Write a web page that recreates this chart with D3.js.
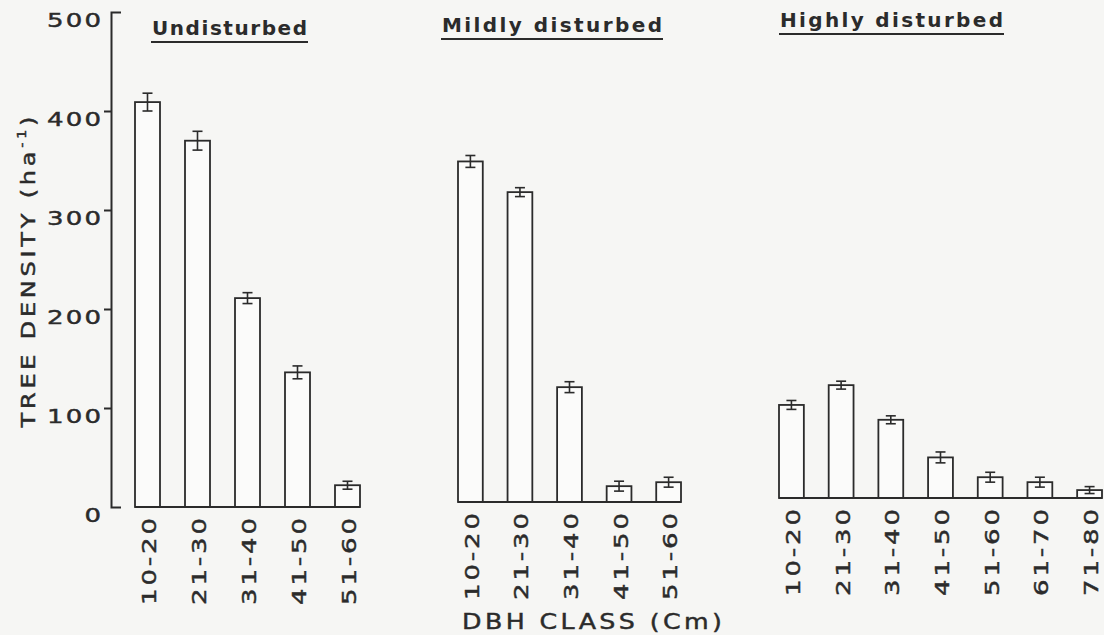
<!DOCTYPE html>
<html>
<head>
<meta charset="utf-8">
<script src="https://cdn.jsdelivr.net/npm/d3@7"></script>
<style>
  body { margin: 0; background: #f6f6f4; }
  svg { display: block; }
  text { font-family: "DejaVu Sans", sans-serif; fill: #2b2b2b; }
  .heavy { stroke: #2b2b2b; stroke-width: 0.45px; }
</style>
</head>
<body>
<svg id="chart"></svg>
<script>
// DBH classes
var classes5 = ["10-20", "21-30", "31-40", "41-50", "51-60"];
var classes7 = ["10-20", "21-30", "31-40", "41-50", "51-60", "61-70", "71-80"];

// tree density (ha-1) and error bars
var undisturbed = [409, 370, 211, 136, 22];
var undisturbedErr = [9, 9.5, 5.5, 6.5, 4];
var mildly = [344, 313, 116, 16, 20];
var mildlyErr = [6, 4.5, 5.5, 5, 5];
var highly = [94, 114, 79, 41, 21, 16, 8];
var highlyErr = [4.5, 4, 4, 5.5, 5, 5, 3.5];

var yTicks = [0, 100, 200, 300, 400, 500];

var width = 1104, height = 635, ink = "#2b2b2b";
var wide = 1.3; // lettering in the figure is extended, stretch the glyphs

var svg = d3.select("#chart").attr("width", width).attr("height", height);

// the scan is a little skewed, so every panel gets its own baseline
var panels = [
  { title: "Undisturbed", cats: classes5, vals: undisturbed, errs: undisturbedErr,
    x0: 135, x1: 360, base: 507, tx: 152, tw: 155, ty: 35 },
  { title: "Mildly disturbed", cats: classes5, vals: mildly, errs: mildlyErr,
    x0: 458, x1: 681, base: 502, tx: 442, tw: 220, ty: 32 },
  { title: "Highly disturbed", cats: classes7, vals: highly, errs: highlyErr,
    x0: 779, x1: 1102, base: 498, tx: 780, tw: 223, ty: 27 }
];

function yScale(base) {
  return d3.scaleLinear().domain([0, 500]).range([base, base - 495]);
}

// y axis
var y = yScale(panels[0].base);
var axis = svg.append("g")
  .attr("transform", "translate(111,0)")
  .call(d3.axisLeft(y).tickValues(yTicks).tickSize(7).tickSizeOuter(-10).tickPadding(3));

axis.select(".domain").attr("stroke", ink).attr("stroke-width", 2);
axis.selectAll(".tick line")
  .attr("stroke", ink).attr("stroke-width", 2)
  .attr("display", function (d) { return (d == 0 || d == 500) ? "none" : null; });
axis.selectAll(".tick text")
  .attr("class", "heavy")
  .attr("fill", ink)
  .attr("font-size", 20)
  .attr("font-family", "DejaVu Sans")
  .attr("transform", "scale(" + wide + ",1)")
  .attr("x", -10 / wide)
  .attr("y", 8)
  .attr("textLength", function (d) { return d == 0 ? null : 54 / wide; })
  .attr("lengthAdjust", "spacing")
  .text(function (d) { return d; });

// y title
var yt = svg.append("text")
  .attr("class", "heavy")
  .attr("transform", "translate(35,272) rotate(-90) scale(1.2,1)")
  .attr("text-anchor", "middle")
  .attr("font-size", 20)
  .attr("textLength", 311 / 1.2)
  .attr("lengthAdjust", "spacing");
yt.append("tspan").text("TREE DENSITY (ha");
yt.append("tspan").attr("font-size", 12).attr("dy", -9).text("-1");
yt.append("tspan").attr("dy", 9).text(")");

// x title
svg.append("text")
  .attr("class", "heavy")
  .attr("transform", "translate(462,629) scale(1.15,1)")
  .attr("font-size", 22)
  .attr("textLength", 260 / 1.15)
  .attr("lengthAdjust", "spacing")
  .text("DBH CLASS (Cm)");

panels.forEach(function (p) {
  var x = d3.scaleBand().domain(p.cats).range([p.x0, p.x1]).paddingInner(0.5).paddingOuter(0);
  var yp = yScale(p.base);
  var bw = x.bandwidth();
  var data = p.cats.map(function (c, i) { return { cat: c, v: p.vals[i], e: p.errs[i] }; });
  var g = svg.append("g");

  // title with underline
  g.append("text")
    .attr("x", p.tx)
    .attr("y", p.ty)
    .attr("font-size", 20)
    .attr("font-weight", "bold")
    .attr("textLength", p.tw)
    .attr("lengthAdjust", "spacing")
    .text(p.title);
  g.append("line")
    .attr("x1", p.tx - 1).attr("x2", p.tx + p.tw + 1)
    .attr("y1", p.ty + 7).attr("y2", p.ty + 7)
    .attr("stroke", ink).attr("stroke-width", 2);

  // bars
  g.selectAll("rect")
    .data(data)
    .enter()
    .append("rect")
    .attr("x", function (d) { return x(d.cat); })
    .attr("y", function (d) { return yp(d.v); })
    .attr("width", bw)
    .attr("height", function (d) { return yp(0) - yp(d.v); })
    .attr("fill", "#fbfbfa")
    .attr("stroke", ink)
    .attr("stroke-width", 1.8);

  // baseline
  g.append("line")
    .attr("x1", p.x0).attr("x2", p.x1)
    .attr("y1", yp(0)).attr("y2", yp(0))
    .attr("stroke", ink).attr("stroke-width", 2.2);

  // error bars
  var eb = g.selectAll(".err")
    .data(data)
    .enter()
    .append("g")
    .attr("class", "err")
    .attr("stroke", ink)
    .attr("stroke-width", 1.6);
  eb.append("line")
    .attr("x1", function (d) { return x(d.cat) + bw / 2; })
    .attr("x2", function (d) { return x(d.cat) + bw / 2; })
    .attr("y1", function (d) { return yp(d.v + d.e); })
    .attr("y2", function (d) { return yp(d.v - d.e); });
  eb.append("line")
    .attr("x1", function (d) { return x(d.cat) + bw / 2 - 5; })
    .attr("x2", function (d) { return x(d.cat) + bw / 2 + 5; })
    .attr("y1", function (d) { return yp(d.v + d.e); })
    .attr("y2", function (d) { return yp(d.v + d.e); });
  eb.append("line")
    .attr("x1", function (d) { return x(d.cat) + bw / 2 - 5; })
    .attr("x2", function (d) { return x(d.cat) + bw / 2 + 5; })
    .attr("y1", function (d) { return yp(d.v - d.e); })
    .attr("y2", function (d) { return yp(d.v - d.e); });

  // rotated class labels
  g.selectAll(".lab")
    .data(p.cats)
    .enter()
    .append("text")
    .attr("class", "lab heavy")
    .attr("transform", function (c) {
      return "translate(" + (x(c) + bw / 2 + 8.5) + "," + (yp(0) + 11) + ") rotate(-90) scale(" + wide + ",1)";
    })
    .attr("text-anchor", "end")
    .attr("font-size", 20)
    .attr("textLength", 87 / wide)
    .attr("lengthAdjust", "spacing")
    .text(function (c) { return c; });
});
</script>
</body>
</html>
